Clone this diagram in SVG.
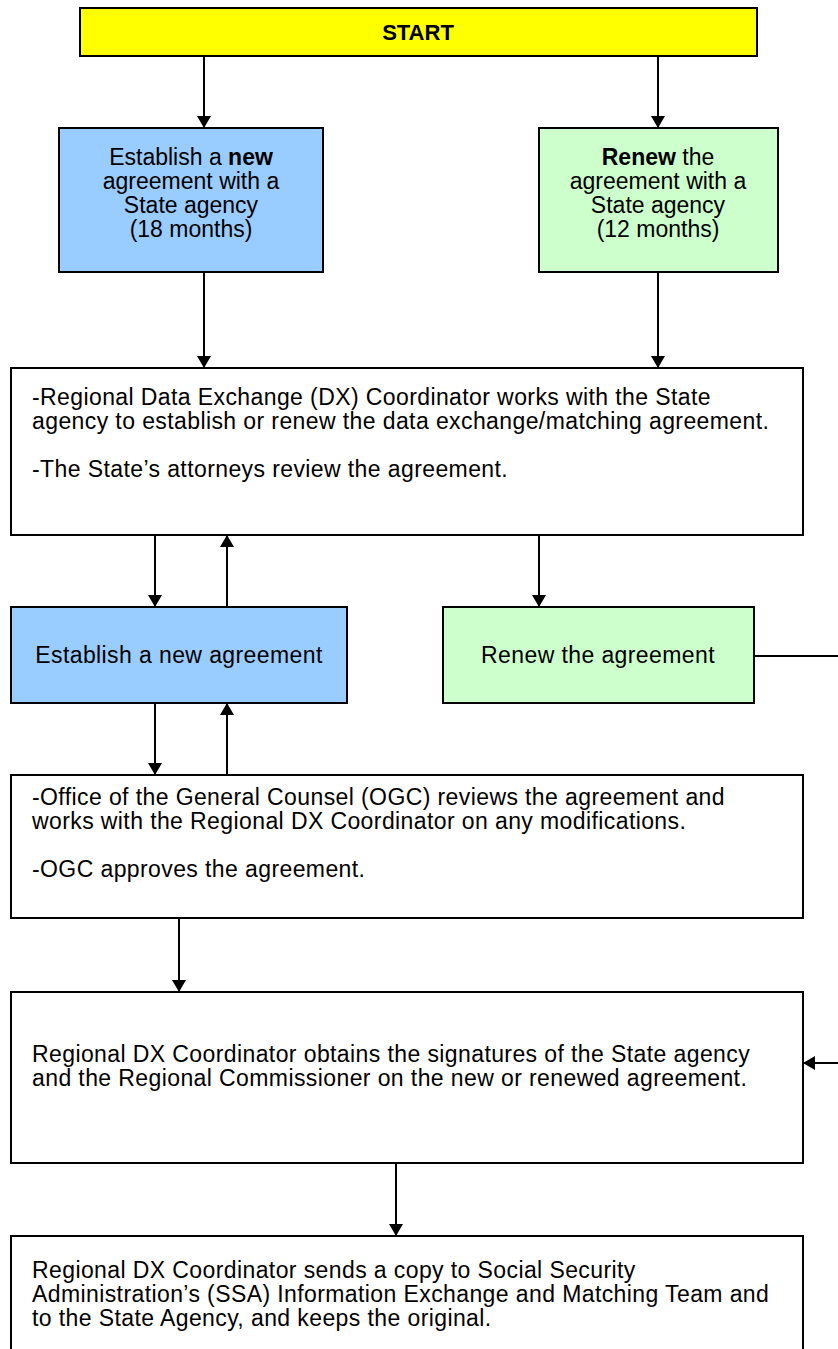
<svg xmlns="http://www.w3.org/2000/svg" width="838" height="1349" viewBox="0 0 838 1349">
<style>
.box{stroke:#000;stroke-width:2}
.t{font-family:"Liberation Sans",Arial,sans-serif;font-size:23px;fill:#000}
.m{letter-spacing:0.4px}
.c{text-anchor:middle}
.b{font-weight:bold}
.ln{stroke:#000;stroke-width:2;fill:none}
</style>
<defs>
<marker id="ah" viewBox="0 0 12 14" refX="12" refY="7" markerWidth="12" markerHeight="14" markerUnits="userSpaceOnUse" orient="auto">
<path d="M0,0 L12,7 L0,14 Z" fill="#000"/>
</marker>
</defs>
<rect width="838" height="1349" fill="#fff"/>
<g id="connectors">
<line class="ln" x1="204" y1="56" x2="204" y2="128" marker-end="url(#ah)"/>
<line class="ln" x1="658" y1="56" x2="658" y2="128" marker-end="url(#ah)"/>
<line class="ln" x1="204" y1="272" x2="204" y2="368" marker-end="url(#ah)"/>
<line class="ln" x1="658" y1="272" x2="658" y2="368" marker-end="url(#ah)"/>
<line class="ln" x1="155" y1="535" x2="155" y2="607" marker-end="url(#ah)"/>
<line class="ln" x1="227" y1="607" x2="227" y2="535" marker-end="url(#ah)"/>
<line class="ln" x1="539" y1="535" x2="539" y2="607" marker-end="url(#ah)"/>
<line class="ln" x1="155" y1="703" x2="155" y2="775" marker-end="url(#ah)"/>
<line class="ln" x1="227" y1="775" x2="227" y2="703" marker-end="url(#ah)"/>
<line class="ln" x1="179" y1="918" x2="179" y2="992" marker-end="url(#ah)"/>
<path class="ln" d="M754,656 H850 V1063 H803" marker-end="url(#ah)"/>
<line class="ln" x1="396" y1="1163" x2="396" y2="1236" marker-end="url(#ah)"/>
</g>
<g id="start">
<rect class="box" x="80" y="8" width="677" height="48" fill="#FFFF00"/>
<text class="t c b" x="418" y="40" style="font-size:22px">START</text>
</g>
<g id="new1">
<rect class="box" x="59" y="128" width="264" height="144" fill="#99CCFF"/>
<text class="t c" x="191" y="165">Establish a <tspan class="b">new</tspan></text>
<text class="t c" x="191" y="189">agreement with a</text>
<text class="t c" x="191" y="213">State agency</text>
<text class="t c" x="191" y="237">(18 months)</text>
</g>
<g id="renew1">
<rect class="box" x="539" y="128" width="239" height="144" fill="#CCFFCC"/>
<text class="t c" x="658" y="165"><tspan class="b">Renew</tspan> the</text>
<text class="t c" x="658" y="189">agreement with a</text>
<text class="t c" x="658" y="213">State agency</text>
<text class="t c" x="658" y="237">(12 months)</text>
</g>
<g id="coord">
<rect class="box" x="11" y="368" width="792" height="167" fill="#fff"/>
<text class="t m" x="32" y="405">-Regional Data Exchange (DX) Coordinator works with the State</text>
<text class="t m" x="32" y="429">agency to establish or renew the data exchange/matching agreement.</text>
<text class="t m" x="32" y="477">-The State’s attorneys review the agreement.</text>
</g>
<g id="new2">
<rect class="box" x="11" y="607" width="336" height="96" fill="#99CCFF"/>
<text class="t m c" x="179" y="663">Establish a new agreement</text>
</g>
<g id="renew2">
<rect class="box" x="443" y="607" width="311" height="96" fill="#CCFFCC"/>
<text class="t m c" x="598" y="663">Renew the agreement</text>
</g>
<g id="ogc">
<rect class="box" x="11" y="775" width="792" height="143" fill="#fff"/>
<text class="t m" x="32" y="805">-Office of the General Counsel (OGC) reviews the agreement and</text>
<text class="t m" x="32" y="829">works with the Regional DX Coordinator on any modifications.</text>
<text class="t m" x="32" y="877">-OGC approves the agreement.</text>
</g>
<g id="signatures">
<rect class="box" x="11" y="992" width="792" height="171" fill="#fff"/>
<text class="t m" x="32" y="1062">Regional DX Coordinator obtains the signatures of the State agency</text>
<text class="t m" x="32" y="1086">and the Regional Commissioner on the new or renewed agreement.</text>
</g>
<g id="copy">
<rect class="box" x="11" y="1236" width="792" height="130" fill="#fff"/>
<text class="t m" x="32" y="1278">Regional DX Coordinator sends a copy to Social Security</text>
<text class="t m" x="32" y="1302">Administration’s (SSA) Information Exchange and Matching Team and</text>
<text class="t m" x="32" y="1326">to the State Agency, and keeps the original.</text>
</g>
</svg>
